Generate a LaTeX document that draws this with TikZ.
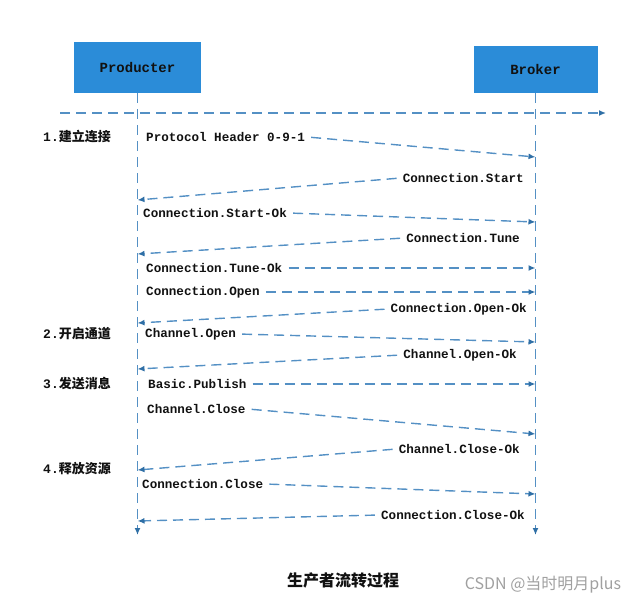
\documentclass[tikz,border=0pt]{standalone}
\usepackage{fontspec}
\setmonofont{Liberation Mono}
\newfontfamily\cjk{Noto Sans CJK SC}
\usetikzlibrary{arrows.meta,positioning}
\definecolor{boxblue}{HTML}{2B8CD8}
\definecolor{wire}{HTML}{5490C4}
\definecolor{tipblue}{HTML}{2F6FA6}
\definecolor{ink}{HTML}{111111}
\definecolor{wmgray}{HTML}{A0A0A0}
\tikzset{
  actor/.style={fill=boxblue, minimum width=127pt, minimum height=51pt, inner sep=0pt, text=ink, font=\ttfamily\bfseries\fontsize{14}{16}\selectfont},
  msg/.style={text=ink, inner sep=2pt, font=\ttfamily\bfseries\fontsize{12.6}{14}\selectfont},
  phase/.style={text=ink, inner sep=0pt, font=\bfseries\fontsize{13}{15}\selectfont},
  wirestyle/.style={draw=wire, line width=1.4pt, dash pattern=on 10pt off 6pt},
  lifeline/.style={wirestyle, -{Latex[length=7pt,width=6pt,color=tipblue]}},
  call/.style={wirestyle, -{Latex[length=7pt,width=6pt,color=tipblue]}, shorten <=4pt},
}

\begin{document}
\begin{tikzpicture}[x=1pt,y=-1pt]
\useasboundingbox (0,0) rectangle (638,605);
% --- participants and lifelines
\node[actor] (prod) at (137.5,67.5) {Producter};
\node[actor, minimum width=124pt, minimum height=47pt] (broker) at (535.5,69.5) {Broker};
\coordinate (prodend) at (prod.south |- 0,535);
\coordinate (brokerend) at (broker.south |- 0,535);
\draw[lifeline] (prod.south) -- (prodend);
\draw[lifeline] (broker.south) -- (brokerend);
\coordinate (ruleL) at (60,113);
\coordinate (ruleR) at (606,113);
\draw[lifeline] (ruleL) -- (ruleR);
% --- phases
\node[phase, anchor=west] (ph1) at (43,137) {\ttfamily 1.\cjk 建立连接};
\node[phase, anchor=west] (ph2) at (43,334) {\ttfamily 2.\cjk 开启通道};
\node[phase, anchor=west] (ph3) at (43,384) {\ttfamily 3.\cjk 发送消息};
\node[phase, anchor=west] (ph4) at (43,469) {\ttfamily 4.\cjk 释放资源};
% --- producer -> broker
\foreach \n/\t/\x/\y/\e in {1/Protocol Header 0-9-1/144/137/157, 3/Connection.Start-Ok/141/213/222,
  5/Connection.Tune-Ok/144/268/268, 6/Connection.Open/144/292/292, 8/Channel.Open/143/334/342,
  10/Basic.Publish/146/384/384, 11/Channel.Close/145/409/434, 13/Connection.Close/140/484/494}{
  \node[msg, anchor=west] (m\n) at (\x,\y) {\t};
  \coordinate (t\n) at (broker.south |- 0,\e);
  \draw[call] (m\n.east) -- (t\n);
}
% --- broker -> producer
\foreach \n/\t/\x/\y/\e in {2/Connection.Start/526/178/200, 4/Connection.Tune/522/238/254,
  7/Connection.Open-Ok/529/309/323, 9/Channel.Open-Ok/519/355/369,
  12/Channel.Close-Ok/522/449/470, 14/Connection.Close-Ok/527/515/521}{
  \node[msg, anchor=east] (m\n) at (\x,\y) {\t};
  \coordinate (t\n) at (prod.south |- 0,\e);
  \draw[call] (m\n.west) -- (t\n);
}
% --- caption
\node[font=\cjk\bfseries\fontsize{16}{18}\selectfont, text=ink] (title) at (343,580) {生产者流转过程};
\node[font=\cjk\fontsize{16}{18}\selectfont, text=wmgray] (wm) at (543,585) {CSDN @当时明月plus};
\end{tikzpicture}
\end{document}
